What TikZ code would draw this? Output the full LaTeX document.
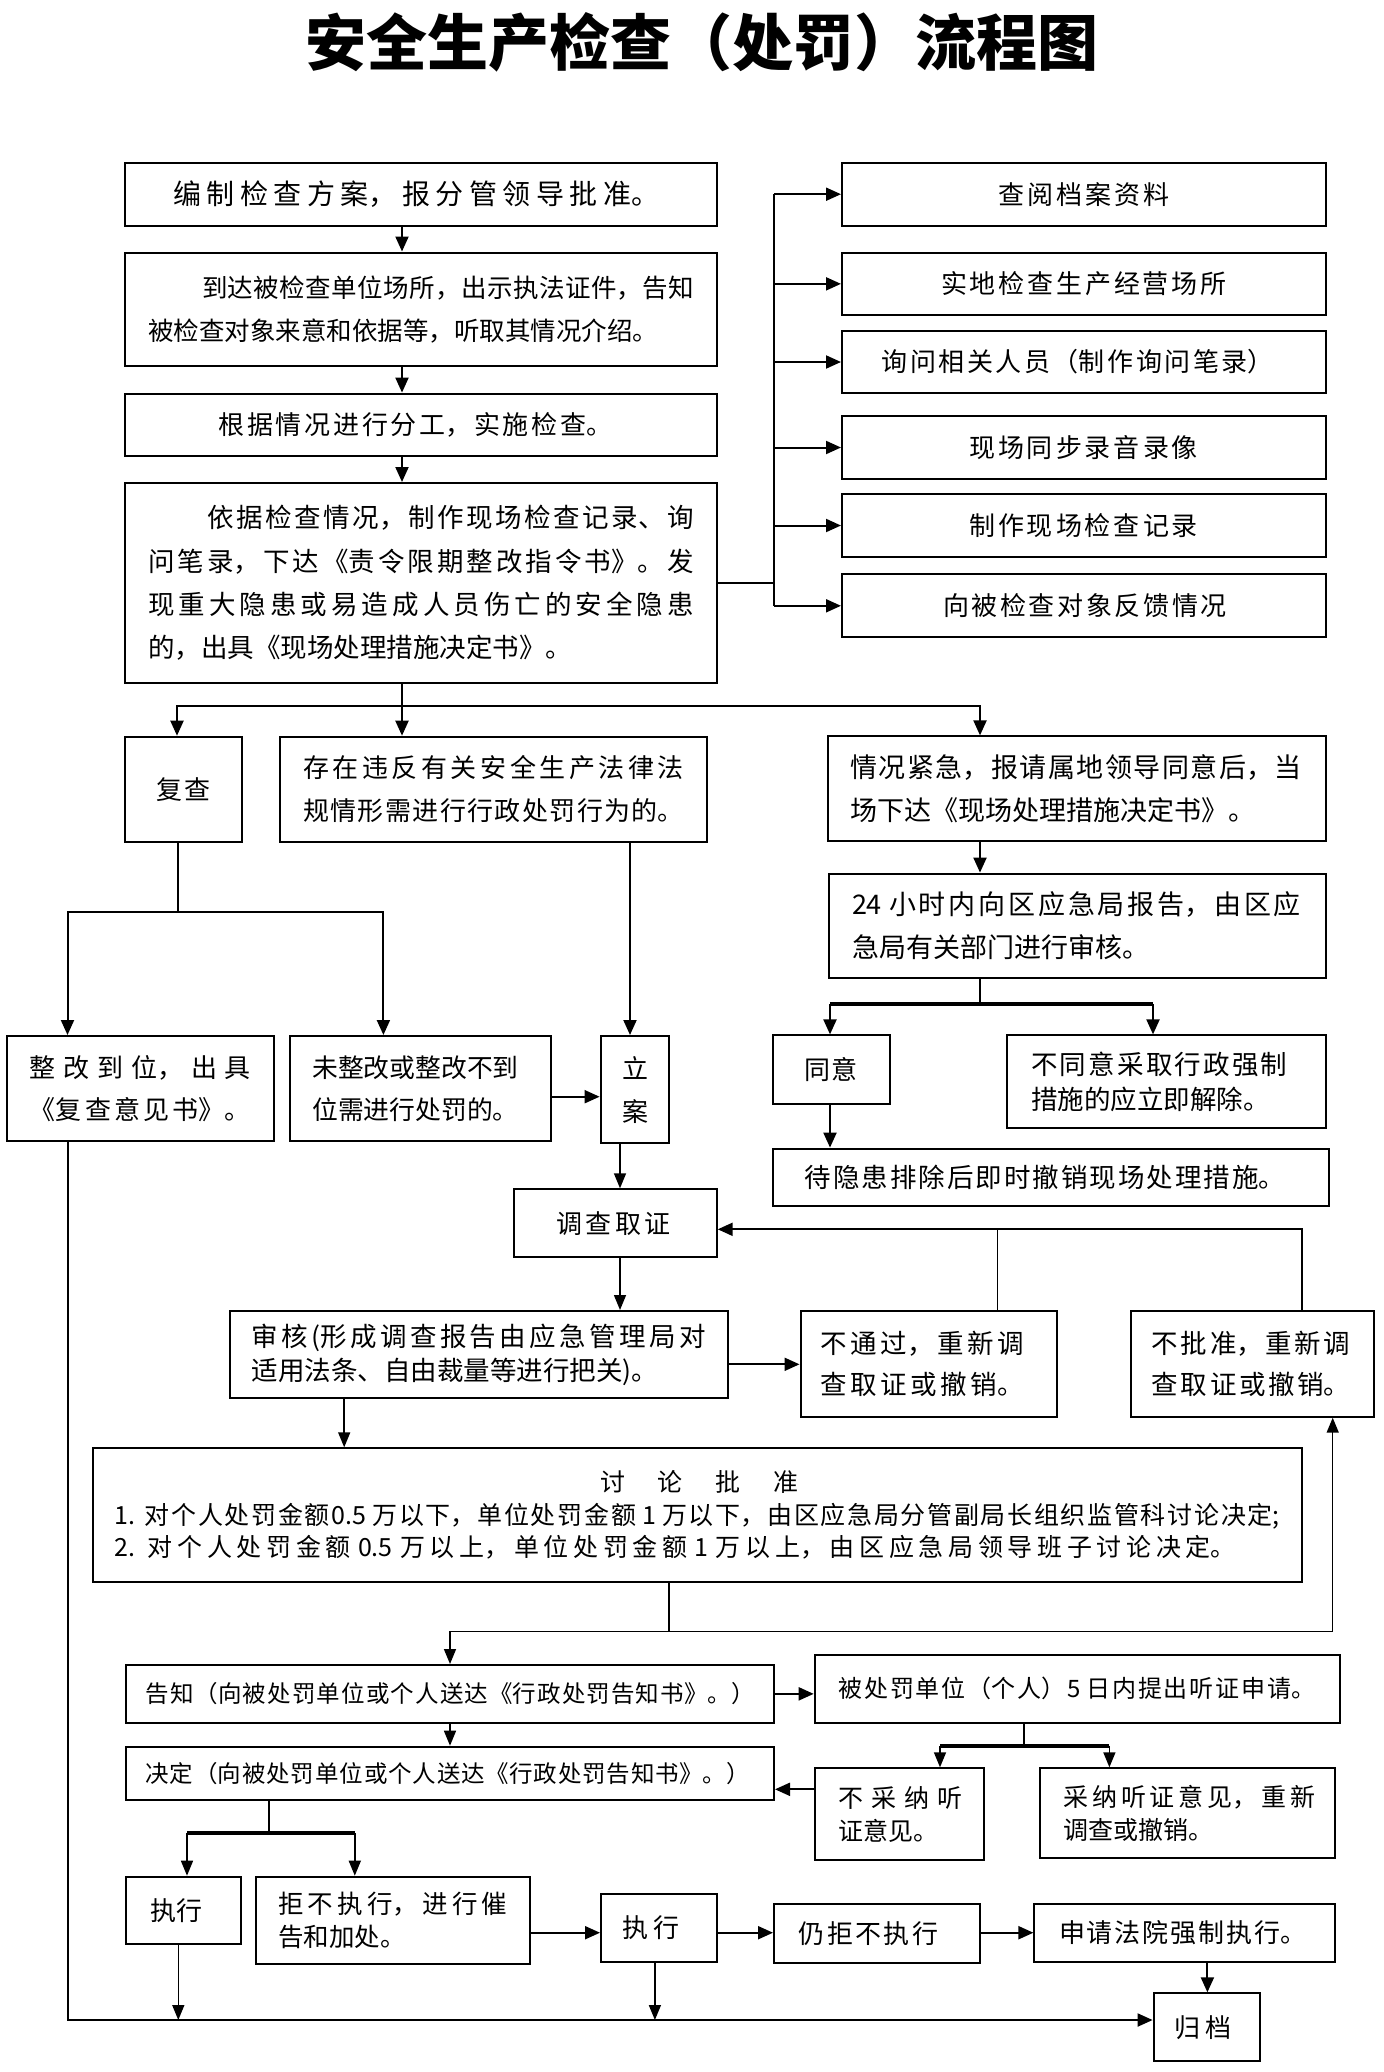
\documentclass[tikz,border=0pt]{standalone}
\usepackage{fontspec}
\setmainfont{Noto Sans CJK SC}
\usetikzlibrary{arrows.meta}
\XeTeXlinebreaklocale "zh"
\XeTeXlinebreakskip=0pt plus 8pt
\setlength\parindent{0pt}
\hbadness=10000
\newcommand\jst{\parfillskip=0pt\relax}
\newcommand\fz[2]{\fontsize{#1pt}{#2pt}\selectfont}
\newcommand\mybx[8]{%
  \pgfmathsetmacro\bxw{#4-#2}%
  \pgfmathsetmacro\bxh{#5-#3}%
  \pgfmathsetmacro\bxcx{(#2+#4)/2}%
  \pgfmathsetmacro\bxcy{(#3+#5)/2}%
  \node[bxs, minimum width=\bxw pt, minimum height=\bxh pt] (#1) at (\bxcx,\bxcy)
    {\makebox[\bxw pt][l]{\hspace*{#6pt}\parbox[c]{#7pt}{#8}}};%
}
\begin{document}
\begin{tikzpicture}[x=1pt,y=-1pt,
  bxs/.style={draw,line width=2pt,inner sep=0pt,rectangle},
  ln/.style={line width=2pt},
  bar/.style={line width=4pt},
  arr/.style={line width=2pt,-{Triangle[length=15pt,width=13pt]}},
  darr/.style={line width=2pt,{Triangle[length=15pt,width=13pt]}-{Triangle[length=15pt,width=13pt]}},
  lnt/.style={line width=1.5pt},
  arrt/.style={line width=1.5pt,-{Triangle[length=15pt,width=12pt]}},
  darrt/.style={line width=1.5pt,{Triangle[length=15pt,width=12pt]}-{Triangle[length=15pt,width=12pt]}},
]
\fill[white] (0,0) rectangle (1384,2072);
\useasboundingbox (0,0) rectangle (1384,2072);

\node (title) at (702,42.5) {\fz{61}{61}\bfseries 安全生产检查（处罚）流程图};

% left column
\mybx{A}{125}{163}{717}{226}{48.5}{486}{\jst\fz{28}{34}编制检查方案，报分管领导批准。}
\mybx{B}{125}{252.5}{717}{366}{23}{546}{\fz{25.5}{43}\hspace*{54pt}到达被检查单位场所，出示执法证件，告知\linebreak 被检查对象来意和依据等，听取其情况介绍。}
\mybx{C}{125}{393.6}{717}{456}{93.4}{394}{\jst\fz{26}{34}根据情况进行分工，实施检查。}
\mybx{D}{125}{483}{717}{683}{23}{546}{\fz{26.5}{43.4}\hspace*{59pt}依据检查情况，制作现场检查记录、询\linebreak 问笔录，下达《责令限期整改指令书》。发\linebreak 现重大隐患或易造成人员伤亡的安全隐患\linebreak 的，出具《现场处理措施决定书》。}

% right column
\mybx{R1}{842}{162.7}{1326}{225.7}{156.7}{170.4}{\jst\fz{26}{34}查阅档案资料}
\mybx{R2}{842}{252.7}{1326}{315}{99}{285.7}{\jst\fz{26}{34}实地检查生产经营场所}
\mybx{R3}{842}{330.7}{1326}{393.3}{39.7}{392}{\jst\fz{26}{34}询问相关人员（制作询问笔录）}
\mybx{R4}{842}{416}{1326}{479}{127}{229}{\jst\fz{26}{34}现场同步录音录像}
\mybx{R5}{842}{494.3}{1326}{556.7}{127}{229}{\jst\fz{26}{34}制作现场检查记录}
\mybx{R6}{842}{574.3}{1326}{637.3}{101}{283.7}{\jst\fz{26}{34}向被检查对象反馈情况}

% second level
\mybx{FC}{125}{736.7}{242.4}{841.7}{31}{55}{\jst\fz{26}{34}复查}
\mybx{CZ}{280}{736.7}{707}{841.7}{23}{381}{\jst\fz{26}{43}存在违反有关安全生产法律法\linebreak 规情形需进行行政处罚行为的。}
\mybx{QK}{828}{736.4}{1325.7}{841.4}{22.5}{451}{\fz{27}{43}情况紧急，报请属地领导同意后，当\linebreak 场下达《现场处理措施决定书》。}
\mybx{H24}{829.3}{873.6}{1325.7}{977.5}{22.7}{449}{\fz{27}{43}24 小时内向区应急局报告，由区应\linebreak 急局有关部门进行审核。}
\mybx{TY}{773}{1035.4}{890.3}{1104}{31.7}{53}{\jst\fz{26}{34}同意}
\mybx{BTY}{1006.7}{1035.4}{1325.7}{1128.2}{24.6}{256}{\fz{26.5}{35}不同意采取行政强制\linebreak 措施的应立即解除。}
\mybx{DYH}{773}{1148.6}{1328.6}{1205.7}{31.7}{480.7}{\jst\fz{26.5}{34}待隐患排除后即时撤销现场处理措施。}
\mybx{ZG}{6.9}{1036}{274.1}{1141}{23}{221}{\jst\fz{26}{42}整改到位，出具\linebreak《复查意见书》。}
\mybx{WZG}{290.2}{1036}{551}{1141}{22}{215}{\fz{25.8}{42}未整改或整改不到\\位需进行处罚的。}
\mybx{LA}{600.6}{1036}{669.4}{1143.3}{19.4}{30}{\centering\fz{26}{43}立\\案}

% investigation
\mybx{DC}{513.7}{1189.3}{716.7}{1257.3}{42.3}{114.8}{\jst\fz{26}{34}调查取证}
\mybx{SH}{229.5}{1311}{728.2}{1398.3}{22}{454.5}{\fz{26.5}{34}审核(形成调查报告由应急管理局对\linebreak 适用法条、自由裁量等进行把关)。}
\mybx{BTG}{800.5}{1311}{1056.5}{1416.7}{20.3}{203}{\jst\fz{26.5}{41.7}不通过，重新调\linebreak 查取证或撤销。}
\mybx{BPZ}{1130.6}{1311}{1374.2}{1416.7}{21.2}{198.6}{\jst\fz{26.5}{41.7}不批准，重新调\linebreak 查取证或撤销。}
\mybx{TL}{92.7}{1448.3}{1301.8}{1581.7}{22}{1165}{\fz{25}{32.5}\hspace*{485.3pt}\parbox[t]{199pt}{\jst 讨论批准}\\ 1. 对个人处罚金额0.5 万以下，单位处罚金额 1 万以下，由区应急局分管副局长组织监管科讨论决定;\linebreak \parbox[t]{1121pt}{\jst 2. 对个人处罚金额 0.5 万以上，单位处罚金额 1 万以上，由区应急局领导班子讨论决定。}}

% notice / decision
\mybx{GZ}{126.2}{1665}{774}{1722.7}{19.4}{609}{\jst\fz{23.5}{30}告知（向被处罚单位或个人送达《行政处罚告知书》。）}
\mybx{BCF}{814.7}{1655}{1339.8}{1722.7}{23.8}{476.5}{\jst\fz{24}{30}被处罚单位（个人）5 日内提出听证申请。}
\mybx{JD}{126.2}{1746.7}{774}{1800}{19.4}{604}{\jst\fz{23.5}{30}决定（向被处罚单位或个人送达《行政处罚告知书》。）}
\mybx{BCN}{814.7}{1768.3}{984.1}{1860}{23.8}{123.6}{\fz{25}{33.3}不采纳听\linebreak 证意见。}
\mybx{CN}{1039.7}{1768.3}{1335.4}{1858.3}{23.9}{251.5}{\fz{25}{33.3}采纳听证意见，重新\linebreak 调查或撤销。}
\mybx{ZX1}{126.2}{1876.7}{241}{1944.3}{23.8}{53}{\jst\fz{26}{34}执行}
\mybx{JB}{256}{1876.7}{529.6}{1964.3}{22}{229.5}{\fz{25.5}{33}拒不执行，进行催\linebreak 告和加处。}
\mybx{ZX2}{601}{1894.3}{716.7}{1961.7}{21}{57.6}{\jst\fz{26}{34}执行}
\mybx{RJ}{774}{1904}{979.7}{1962.7}{24.8}{139.4}{\jst\fz{26}{34}仍拒不执行}
\mybx{SQ}{1034.4}{1904}{1335.4}{1961.7}{24.6}{247.3}{\jst\fz{26}{34}申请法院强制执行。}
\mybx{GD}{1153.6}{1993.3}{1260.4}{2061}{20.4}{57.2}{\jst\fz{26}{34}归档}

% ---------- connectors ----------
\coordinate (cx) at (402,0);
\draw[arr] (A.south -| cx) -- (B.north -| cx);
\draw[arr] (B.south -| cx) -- (C.north -| cx);
\draw[arr] (C.south -| cx) -- (D.north -| cx);
\coordinate (bus) at (774,0);
\draw[ln] (D.east) -- (D.east -| bus);
\draw[ln] (R1.west -| bus) -- (R6.west -| bus);
\foreach \r in {R1,R2,R3,R4,R5,R6} \draw[arr] (\r.west -| bus) -- (\r.west);

\coordinate (s1) at (402,706);
\coordinate (sL) at (177,706);
\coordinate (sR) at (980,706);
\draw[ln] (D.south -| s1) -- (s1);
\draw[darr] (FC.north -| sL) -- (sL) -- (sR) -- (QK.north -| sR);
\draw[arr] (s1) -- (CZ.north -| s1);
\draw[arr] (QK.south -| sR) -- (H24.north -| sR);

\coordinate (t1) at (980,1004.3);
\coordinate (tL) at (830,1004.3);
\coordinate (tR) at (1153,1004.3);
\draw[ln] (H24.south -| t1) -- (t1);
\draw[bar] (tL) -- (tR);
\draw[arr] (tL) -- (TY.north -| tL);
\draw[arr] (tR) -- (BTY.north -| tR);
\draw[arr] (TY.south -| tL) -- (DYH.north -| tL);

\coordinate (f1) at (178,912.3);
\coordinate (fL) at (67.5,912.3);
\coordinate (fR) at (383.4,912.3);
\draw[ln] (FC.south -| f1) -- (f1);
\draw[darr] (ZG.north -| fL) -- (fL) -- (fR) -- (WZG.north -| fR);

\coordinate (la) at (630,0);
\draw[arr] (CZ.south -| la) -- (LA.north -| la);
\coordinate (ya) at (0,1096.7);
\draw[arr] (WZG.east |- ya) -- (LA.west |- ya);
\coordinate (lb) at (620,0);
\draw[arrt] (LA.south -| lb) -- (DC.north -| lb);
\draw[arrt] (DC.south -| lb) -- (SH.north -| lb);
\coordinate (yb) at (0,1364.3);
\draw[arr] (SH.east |- yb) -- (BTG.west |- yb);
\coordinate (fb1) at (997.4,1229.3);
\coordinate (fb2) at (1301.8,1229.3);
\draw[arr] (BPZ.north -| fb2) -- (fb2) -- (DC.east |- fb2);
\draw[lnt] (BTG.north -| fb1) -- (fb1);
\coordinate (tx) at (344.2,0);
\draw[arrt] (SH.south -| tx) -- (TL.north -| tx);

\coordinate (g1) at (669,1631.7);
\coordinate (gL) at (450,1631.7);
\coordinate (gR) at (1332.7,1631.7);
\draw[lnt] (TL.south -| g1) -- (g1);
\draw[darrt] (GZ.north -| gL) -- (gL) -- (gR) -- (BPZ.south -| gR);
\draw[arr] (GZ.east) -- (BCF.west |- GZ.east);
\draw[arrt] (GZ.south -| gL) -- (JD.north -| gL);

\coordinate (h1) at (1023.8,1745.7);
\coordinate (hL) at (940,1745.7);
\coordinate (hR) at (1109.4,1745.7);
\draw[lnt] (BCF.south -| h1) -- (h1);
\draw[bar] (hL) -- (hR);
\draw[arrt] (hL) -- (BCN.north -| hL);
\draw[arrt] (hR) -- (CN.north -| hR);
\coordinate (yc) at (0,1789.3);
\draw[arr] (BCN.west |- yc) -- (JD.east |- yc);

\coordinate (j1) at (269.2,1833.3);
\coordinate (jL) at (187,1833.3);
\coordinate (jR) at (354.8,1833.3);
\draw[lnt] (JD.south -| j1) -- (j1);
\draw[bar] (jL) -- (jR);
\draw[arrt] (jL) -- (ZX1.north -| jL);
\draw[arrt] (jR) -- (JB.north -| jR);

\coordinate (yd) at (0,1932.7);
\draw[arr] (JB.east |- yd) -- (ZX2.west |- yd);
\draw[arr] (ZX2.east |- yd) -- (RJ.west |- yd);
\draw[arr] (RJ.east |- yd) -- (SQ.west |- yd);
\coordinate (xe) at (1207.4,0);
\draw[arr] (SQ.south -| xe) -- (GD.north -| xe);

\coordinate (b0) at (67.5,2020);
\draw[arr] (ZG.south -| b0) -- (b0) -- (GD.west |- b0);
\coordinate (xf) at (178.3,0);
\draw[arrt] (ZX1.south -| xf) -- (xf |- b0);
\coordinate (xg) at (654.9,0);
\draw[arrt] (ZX2.south -| xg) -- (xg |- b0);
\end{tikzpicture}
\end{document}
